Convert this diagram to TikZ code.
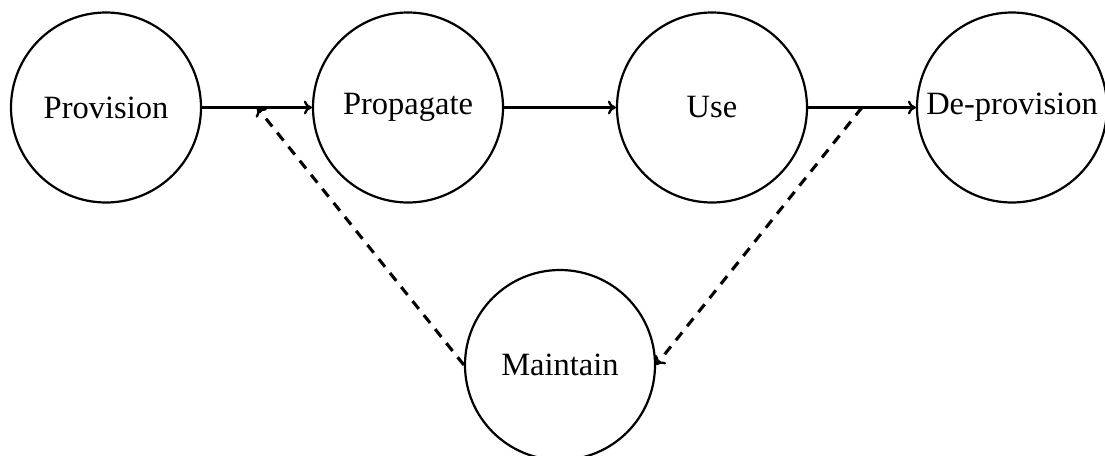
\documentclass[tikz,border=0pt]{standalone}
\usepackage{fontspec}
\setmainfont{Liberation Serif}
\usetikzlibrary{calc,arrows.meta}
\begin{document}
\begin{tikzpicture}[x=1pt,y=-1pt,
  stage/.style={circle, draw, line width=2.2pt, minimum size=190pt, inner sep=0pt,
                font=\fontsize{32.5}{39}\selectfont},
  tip/.style={-{To[length=8pt,width=14pt,line width=2.3pt]}},
  flow/.style={tip, line width=3.1pt},
  feedback/.style={tip, line width=3.1pt, dash pattern=on 10pt off 8pt}]
\useasboundingbox (0,0) rectangle (1105,455);

% lifecycle stages
\node[stage] (prov)   at (106,107.5) {Provision};
\node[stage] (prop)   at (408,107.5) {Propagate};
\node[stage] (use)    at (712,107.5) {Use};
\node[stage] (deprov) at (1012,107.5) {De-provision};
\node[stage] (maint)  at (560,365)   {Maintain};

% main flow
\draw[flow] (prov) -- (prop);
\draw[flow] (prop) -- (use);
\draw[flow] (use) -- (deprov);

% maintenance loop
\coordinate (back) at ($(prov.east)!0.5!(prop.west)$);
\coordinate (out)  at ($(use.east)!0.5!(deprov.west)$);
\draw[feedback] (out) -- (maint.east);
\draw[feedback] (maint.west) -- (back);
\end{tikzpicture}
\end{document}
